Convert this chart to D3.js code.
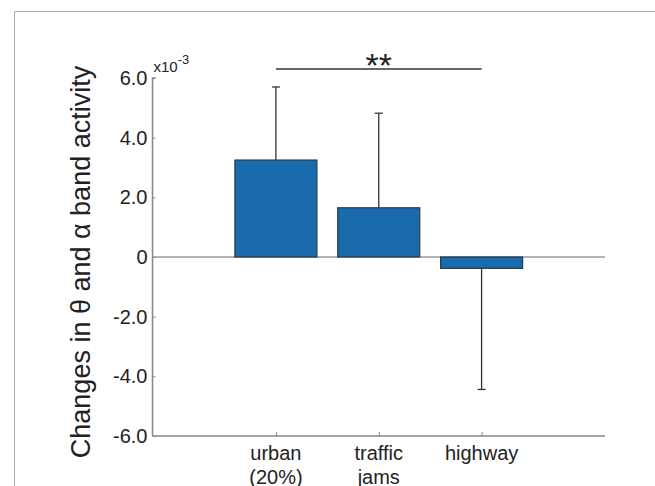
<!DOCTYPE html>
<meta charset="utf-8">
<style>
body { margin: 0; background: white; }
text { font-family: "Liberation Sans", Arial, sans-serif; fill: #222; }
</style>
<body>
<script src="https://d3js.org/d3.v7.min.js"></script>
<script>
var width = 655,
    height = 486;

// data (units of 1e-3)
var categories = [["urban", "(20%)"], ["traffic", "jams"], ["highway"]];
var means = [3.25, 1.65, -0.38];
var errors = [2.45, 3.17, 4.06];
var yTicks = [-6, -4, -2, 0, 2, 4, 6];
var yTickLabels = ["-6.0", "-4.0", "-2.0", "0", "2.0", "4.0", "6.0"];

var svg = d3.select("body").append("svg")
    .attr("width", width)
    .attr("height", height);

// frame around the figure
svg.append("path")
    .attr("d", "M14.5,486 V11.5 H655")
    .attr("fill", "none")
    .attr("stroke", "#aaa")
    .attr("stroke-width", 1);

var x = d3.scaleLinear().domain([-0.2, 4.2]).range([152.5, 605]);
var y = d3.scaleLinear().domain([-6, 6]).range([436, 78]);
var barW = 82;

var g = svg.append("g");

// zero line
g.append("line")
    .attr("x1", x(-0.2)).attr("x2", x(4.2))
    .attr("y1", y(0)).attr("y2", y(0))
    .attr("stroke", "#999").attr("stroke-width", 1.5);

// error bars
var eb = g.selectAll(".err").data(means).enter().append("g");
eb.append("line")
    .attr("x1", function(d, i) { return x(i + 1); })
    .attr("x2", function(d, i) { return x(i + 1); })
    .attr("y1", function(d) { return y(d); })
    .attr("y2", function(d, i) { return y(d + (d < 0 ? -errors[i] : errors[i])); })
    .attr("stroke", "#333").attr("stroke-width", 1.3);
eb.append("line")
    .attr("x1", function(d, i) { return x(i + 1) - 4; })
    .attr("x2", function(d, i) { return x(i + 1) + 4; })
    .attr("y1", function(d, i) { return y(d + (d < 0 ? -errors[i] : errors[i])); })
    .attr("y2", function(d, i) { return y(d + (d < 0 ? -errors[i] : errors[i])); })
    .attr("stroke", "#333").attr("stroke-width", 1.3);

// bars
g.selectAll(".bar").data(means).enter().append("rect")
    .attr("x", function(d, i) { return x(i + 1) - barW / 2; })
    .attr("width", barW)
    .attr("y", function(d) { return y(Math.max(0, d)); })
    .attr("height", function(d) { return Math.abs(y(d) - y(0)); })
    .attr("fill", "#1a6aae")
    .attr("stroke", "#2a3a4a")
    .attr("stroke-width", 1.2);

// y axis
var yAxis = d3.axisLeft(y)
    .tickValues(yTicks)
    .tickFormat(function(d, i) { return yTickLabels[i]; })
    .tickSize(4)
    .tickPadding(3);
var ya = svg.append("g")
    .attr("transform", "translate(" + x(-0.2) + ",0)")
    .call(yAxis);
ya.selectAll("line").attr("stroke", "#888").attr("x2", 3);
ya.select(".domain").attr("stroke", "#888").attr("stroke-width", 1.5)
    .attr("d", "M3," + y(6) + "H0V" + y(-6) + "H0");
ya.selectAll("text").style("font-size", "20px").attr("fill", "#222").attr("x", -5);

// x axis
var xAxis = d3.axisBottom(x)
    .tickValues([1, 2, 3])
    .tickFormat("")
    .tickSize(-4);
var xa = svg.append("g")
    .attr("transform", "translate(0," + y(-6) + ")")
    .call(xAxis);
xa.select(".domain").attr("stroke", "#888").attr("stroke-width", 1.5)
    .attr("d", "M" + x(-0.2) + ",0H" + x(4.2));
xa.selectAll("line").attr("stroke", "#888");

// category labels
var lab = svg.selectAll(".cat").data(categories).enter().append("text")
    .attr("text-anchor", "middle")
    .style("font-size", "20px");
lab.each(function(d, i) {
  var t = d3.select(this);
  d.forEach(function(s, j) {
    t.append("tspan")
        .attr("x", x(i + 1))
        .attr("y", 460 + j * 24)
        .text(s);
  });
});

// exponent
var ex = svg.append("text")
    .attr("x", x(-0.2) + 1)
    .attr("y", 72)
    .style("font-size", "15px")
    .text("x10");
ex.append("tspan").attr("dy", -8).style("font-size", "13px").text("-3");

// y label
svg.append("text")
    .attr("transform", "translate(90," + 262 + ") rotate(-90)")
    .attr("text-anchor", "middle")
    .style("font-size", "27px")
    .text("Changes in \u03b8 and  \u03b1 band activity");

// significance
svg.append("line")
    .attr("x1", x(1)).attr("x2", x(3))
    .attr("y1", 69).attr("y2", 69)
    .attr("stroke", "#333").attr("stroke-width", 1.5);
svg.append("text")
    .attr("x", (x(1) + x(3)) / 2)
    .attr("y", 77)
    .attr("text-anchor", "middle")
    .style("font-size", "34px")
    .text("**");
</script>
</body>
